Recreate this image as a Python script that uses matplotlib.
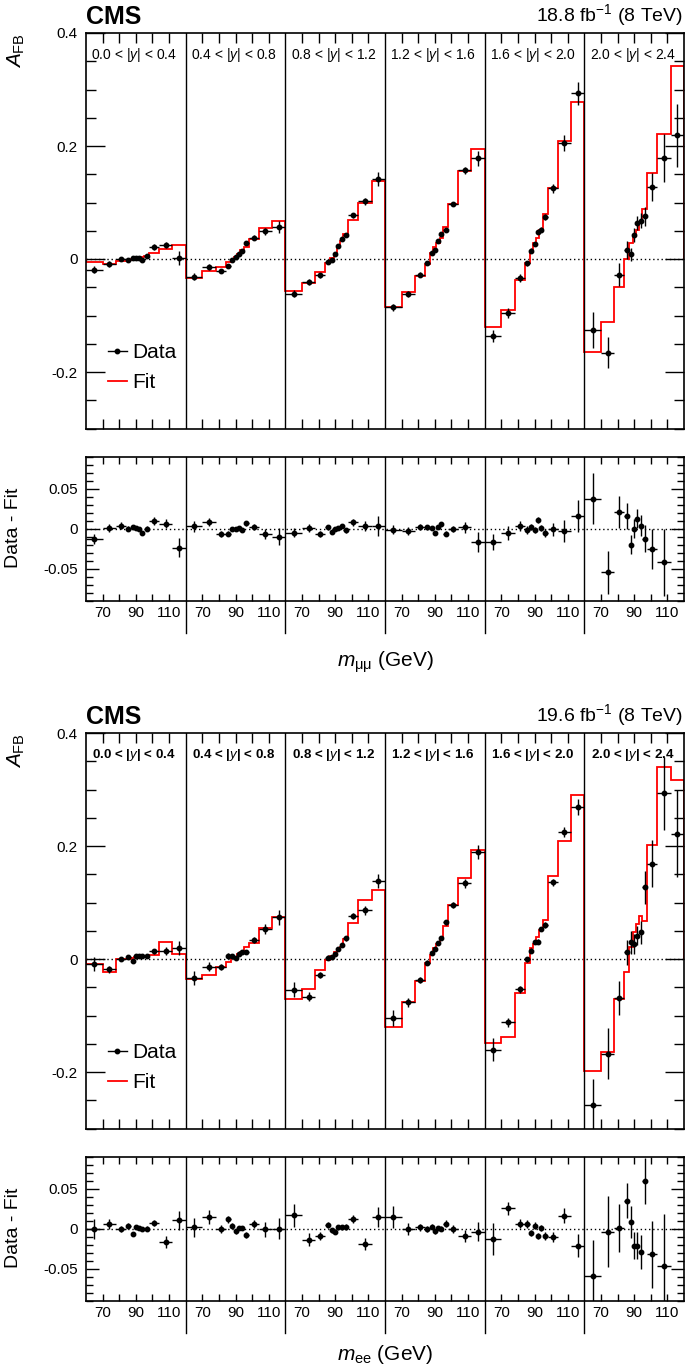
import numpy as np
import matplotlib
matplotlib.use("Agg")
import matplotlib.pyplot as plt
from matplotlib.lines import Line2D
from matplotlib.ticker import MultipleLocator

# ===================== fonts =====================
plt.rcParams['font.family'] = ['Liberation Sans', 'DejaVu Sans']
plt.rcParams['mathtext.fontset'] = 'custom'
plt.rcParams['mathtext.rm'] = 'Liberation Sans'
plt.rcParams['mathtext.it'] = 'Liberation Sans:italic'
plt.rcParams['mathtext.bf'] = 'Liberation Sans:bold'
plt.rcParams['axes.unicode_minus'] = False

# ===================== data =====================
MASS_EDGES = [60, 70, 78, 84, 87, 89, 91, 93, 95, 98, 104, 112, 120]
Y_BINS = ['0.0 < |$y$| < 0.4', '0.4 < |$y$| < 0.8', '0.8 < |$y$| < 1.2',
          '1.2 < |$y$| < 1.6', '1.6 < |$y$| < 2.0', '2.0 < |$y$| < 2.4']

# muon channel: fit value, data - fit, data uncertainty (per |y| bin, per mass bin)
MU_FIT = [
    [-0.006, -0.0095, -0.004, -0.002, 0.0, 0.001, 0.002, 0.004, 0.006, 0.011, 0.018, 0.025],
    [-0.034, -0.022, -0.015, -0.006, -0.002, 0.004, 0.008, 0.016, 0.022, 0.036, 0.055, 0.067],
    [-0.0566, -0.042, -0.0224, -0.0077, 0.001, 0.008, 0.022, 0.031, 0.044, 0.069, 0.0985, 0.138],
    [-0.0844, -0.059, -0.0295, -0.009, 0.010, 0.021, 0.029, 0.038, 0.057, 0.0973, 0.155, 0.1947],
    [-0.120, -0.090, -0.037, -0.0065, 0.013, 0.028, 0.0366, 0.051, 0.079, 0.126, 0.209, 0.277],
    [-0.164, -0.111, -0.049, 0.0, 0.028, 0.0425, 0.051, 0.064, 0.088, 0.152, 0.221, 0.342],
]
MU_RES = [
    [-0.0126, 0.001, 0.004, 0.0, 0.002, 0.001, 0.0, -0.005, 0.0, 0.0097, 0.0063, -0.0235],
    [0.003, 0.008, -0.0063, -0.006, -0.0004, 0.0004, 0.001, -0.002, 0.007, 0.002, -0.006, -0.010],
    [-0.0046, 0.001, -0.0067, 0.002, -0.0034, 0.0, 0.001, 0.004, -0.002, 0.008, 0.004, 0.004],
    [-0.001, -0.003, 0.002, 0.002, 0.001, -0.0046, 0.002, 0.006, -0.006, 0.0, 0.0017, -0.0168],
    [-0.0164, -0.005, 0.0034, -0.0013, 0.002, -0.0013, 0.011, 0.001, -0.0046, -0.0008, -0.003, 0.016],
    [0.038, -0.0546, 0.0214, 0.0164, -0.020, 0.0, 0.0126, 0.0038, -0.0126, -0.025, -0.042, -0.123],
]
MU_ERR = [
    [0.006, 0.005, 0.004, 0.003, 0.002, 0.002, 0.002, 0.002, 0.003, 0.005, 0.0055, 0.012],
    [0.007, 0.005, 0.0035, 0.003, 0.002, 0.002, 0.002, 0.002, 0.003, 0.004, 0.0063, 0.0105],
    [0.006, 0.005, 0.004, 0.003, 0.002, 0.002, 0.002, 0.002, 0.003, 0.004, 0.0063, 0.0126],
    [0.006, 0.005, 0.004, 0.003, 0.002, 0.002, 0.002, 0.002, 0.003, 0.004, 0.0063, 0.0126],
    [0.010, 0.009, 0.0067, 0.005, 0.004, 0.004, 0.004, 0.004, 0.005, 0.008, 0.014, 0.020],
    [0.032, 0.027, 0.020, 0.016, 0.012, 0.012, 0.012, 0.013, 0.017, 0.025, 0.042, 0.056],
]

# electron channel
EE_FIT = [
    [-0.0088, -0.0236, 0.0, 0.0, 0.002, 0.003, 0.004, 0.005, 0.006, 0.0065, 0.030, 0.0088],
    [-0.0354, -0.0283, -0.0136, -0.006, 0.001, 0.004, 0.008, 0.012, 0.0206, 0.0277, 0.0543, 0.0737],
    [-0.0708, -0.053, -0.0195, -0.002, 0.0057, 0.0126, 0.0157, 0.022, 0.0346, 0.0643, 0.1044, 0.123],
    [-0.1198, -0.0767, -0.039, -0.0065, 0.0075, 0.020, 0.0267, 0.0378, 0.0583, 0.0956, 0.1428, 0.193],
    [-0.148, -0.1376, -0.0604, -0.0069, 0.0197, 0.026, 0.0395, 0.0517, 0.0688, 0.1462, 0.2086, 0.2894],
    [-0.199, -0.1646, -0.0706, -0.0232, 0.0211, 0.0475, 0.062, 0.076, 0.0673, 0.201, 0.339, 0.317],
]
EE_RES = [
    [0.0, 0.0055, 0.0, 0.004, -0.006, 0.0025, 0.0013, 0.0, 0.0, 0.007, -0.016, 0.0105],
    [0.002, 0.0147, -0.0008, 0.0118, 0.004, -0.003, 0.001, 0.001, -0.008, 0.0063, -0.0008, 0.0004],
    [0.0168, -0.0134, -0.0084, 0.0046, -0.0017, -0.0038, 0.002, 0.002, 0.002, 0.0118, -0.0185, 0.0147],
    [0.0151, 0.0, 0.0017, 0.0, 0.0025, -0.003, 0.001, 0.0, 0.0067, 0.0, -0.009, -0.0038],
    [-0.0126, 0.0256, 0.0067, 0.0063, -0.005, 0.004, -0.0088, 0.0013, -0.0088, -0.0105, 0.0164, -0.021],
    [-0.0588, -0.0034, 0.001, 0.035, 0.0084, -0.021, -0.021, -0.029, 0.0597, -0.032, -0.046, -0.095],
]
EE_ERR = [
    [0.0126, 0.0063, 0.004, 0.003, 0.0025, 0.002, 0.002, 0.002, 0.003, 0.004, 0.0076, 0.0118],
    [0.0118, 0.0084, 0.005, 0.004, 0.003, 0.003, 0.003, 0.003, 0.004, 0.005, 0.009, 0.0134],
    [0.014, 0.0076, 0.005, 0.004, 0.003, 0.003, 0.003, 0.003, 0.004, 0.005, 0.0076, 0.0126],
    [0.014, 0.0076, 0.005, 0.004, 0.003, 0.003, 0.003, 0.003, 0.004, 0.005, 0.0076, 0.012],
    [0.020, 0.0084, 0.006, 0.005, 0.004, 0.004, 0.004, 0.004, 0.005, 0.0063, 0.0092, 0.0143],
    [0.045, 0.045, 0.030, 0.022, 0.020, 0.017, 0.017, 0.021, 0.029, 0.042, 0.065, 0.077],
]

# ===================== layout (pixels) =====================
W, H = 685, 1371
AX_LEFT, AX_RIGHT = 86, 684
MAIN_H, GAP, RATIO_H = 395.5, 28.5, 143.7
SEG = 60.0
MAIN_YLIM = (-0.3, 0.4)
RATIO_YLIM = (-0.09, 0.09)


def px_box(top, height):
    return [AX_LEFT / W, 1 - (top + height) / H, (AX_RIGHT - AX_LEFT) / W, height / H]


def flat_positions():
    e = np.array(MASS_EDGES, dtype=float) - MASS_EDGES[0]
    edges = np.concatenate([i * SEG + e[:-1] for i in range(len(Y_BINS))] + [[len(Y_BINS) * SEG]])
    centers = np.concatenate([i * SEG + (e[:-1] + e[1:]) / 2 for i in range(len(Y_BINS))])
    halfw = np.concatenate([(e[1:] - e[:-1]) / 2 for _ in Y_BINS])
    return edges, centers, halfw


def style_x(ax, length, labels):
    ticks, texts = [], []
    for i in range(len(Y_BINS)):
        for d, t in zip((10, 20, 30, 40, 50), ('70', '', '90', '', '110')):
            ticks.append(i * SEG + d)
            texts.append(t if labels else '')
    ax.set_xticks(ticks)
    ax.set_xticklabels(texts, fontsize=11)
    ax.set_xlim(0, len(Y_BINS) * SEG)
    ax.tick_params(axis='x', which='both', direction='in', top=True, bottom=True,
                   length=length, width=1.0, pad=4)


def draw_channel(fig, top, fit, res, err, lumi, xlabel, xlabel_dy, bold):
    edges, xc, xw = flat_positions()
    fit = np.concatenate(fit)
    res = np.concatenate(res)
    err = np.concatenate(err)
    data = fit + res

    ax = fig.add_axes(px_box(top, MAIN_H))
    rax = fig.add_axes(px_box(top + MAIN_H + GAP, RATIO_H))

    # ---- main panel ----
    ax.axhline(0, color='k', ls=(0, (1, 2)), lw=1.0, zorder=1)
    ax.stairs(fit, edges, color='#ff0000', lw=1.3, zorder=2)
    ax.errorbar(xc, data, xerr=xw, yerr=err, fmt='o', ms=3.2, color='k',
                elinewidth=1.0, capsize=0, zorder=3)
    for i in range(1, len(Y_BINS)):
        ax.axvline(i * SEG, color='k', lw=1.0, zorder=4)
    for i, lab in enumerate(Y_BINS):
        ax.text(i * SEG + 29, 0.361, lab, ha='center', va='center',
                fontsize=9.6 if bold else 10, fontweight='bold' if bold else 'normal')
    ax.set_ylim(*MAIN_YLIM)
    ax.set_yticks([-0.2, 0, 0.2, 0.4])
    ax.set_yticklabels(['-0.2', '0', '0.2', '0.4'], fontsize=11)
    ax.yaxis.set_minor_locator(MultipleLocator(0.05))
    ax.tick_params(axis='y', which='major', direction='in', left=True, right=True,
                   length=13.5, width=1.0, pad=6)
    ax.tick_params(axis='y', which='minor', direction='in', left=True, right=True,
                   length=7, width=1.0)
    style_x(ax, 7.2, False)

    handles = [Line2D([], [], color='k', marker='o', ms=3.2, lw=1.0),
               Line2D([], [], color='#ff0000', lw=1.3)]
    ax.legend(handles, ['Data', 'Fit'], loc='center left', bbox_to_anchor=(0.036, 0.154),
              frameon=False, fontsize=15, handlelength=0.95, handletextpad=0.25,
              labelspacing=0.55, borderpad=0, borderaxespad=0)

    # ---- ratio panel ----
    rax.axhline(0, color='k', ls=(0, (1, 2)), lw=1.0, zorder=1)
    keep = (res > RATIO_YLIM[0]) & (res < RATIO_YLIM[1])
    rax.errorbar(xc[keep], res[keep], xerr=xw[keep], yerr=err[keep], fmt='o', ms=3.2,
                 color='k', elinewidth=1.0, capsize=0, zorder=3)
    ext = 32 / RATIO_H * (RATIO_YLIM[1] - RATIO_YLIM[0])
    for i in range(1, len(Y_BINS)):
        rax.plot([i * SEG, i * SEG], [RATIO_YLIM[0] - ext, RATIO_YLIM[1]], color='k',
                 lw=1.0, clip_on=False, zorder=4)
    rax.set_ylim(*RATIO_YLIM)
    rax.set_yticks([-0.05, 0, 0.05])
    rax.set_yticklabels(['-0.05', '0', '0.05'], fontsize=11)
    rax.yaxis.set_minor_locator(MultipleLocator(0.01))
    rax.tick_params(axis='y', which='major', direction='in', left=True, right=True,
                    length=9.4, width=1.0, pad=6)
    rax.tick_params(axis='y', which='minor', direction='in', left=True, right=True,
                    length=5, width=1.0)
    style_x(rax, 5, True)

    for a in (ax, rax):
        for s in a.spines.values():
            s.set_linewidth(1.2)

    # ---- texts ----
    fig.text(AX_LEFT / W, 1 - (top - 9) / H, 'CMS', fontsize=18, fontweight='bold',
             ha='left', va='baseline')
    fig.text(683 / W, 1 - (top - 12) / H, lumi, fontsize=14, ha='right', va='baseline')
    fig.text(16 / W, 1 - top / H, r'$A_{\mathrm{FB}}$', rotation=90, fontsize=15,
             ha='center', va='top')
    fig.text(14 / W, 1 - (top + 495) / H, 'Data - Fit', rotation=90, fontsize=14,
             ha='center', va='center')
    fig.text(385 / W, 1 - (top + xlabel_dy) / H, xlabel, fontsize=15, ha='center',
             va='center')


def main():
    fig = plt.figure(figsize=(W / 100, H / 100), dpi=100)
    draw_channel(fig, 33, MU_FIT, MU_RES, MU_ERR, r'18.8 fb$^{-1}$ (8 TeV)',
                 r'$m_{\mathrm{\mu\mu}}$ (GeV)', 629, False)
    draw_channel(fig, 733, EE_FIT, EE_RES, EE_ERR, r'19.6 fb$^{-1}$ (8 TeV)',
                 r'$m_{\mathrm{ee}}$ (GeV)', 622, True)
    fig.savefig('out.png', dpi=100)
    plt.close(fig)


if __name__ == "__main__":
    main()
